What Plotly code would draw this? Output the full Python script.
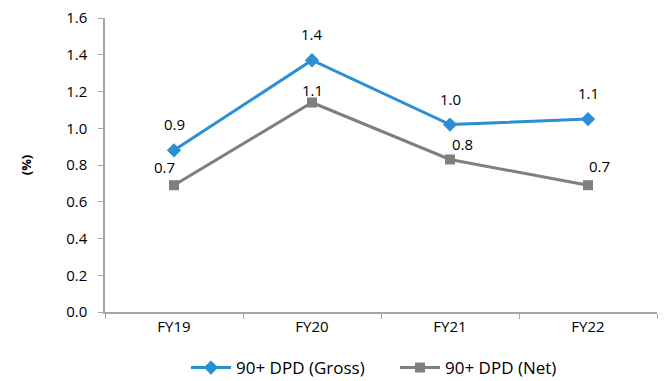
import plotly.graph_objects as go

categories = ["FY19", "FY20", "FY21", "FY22"]
gross = [0.88, 1.37, 1.02, 1.05]
net = [0.69, 1.14, 0.83, 0.69]
gross_labels = ["0.9", "1.4", "1.0", "1.1"]
net_labels = ["0.7", "1.1", "0.8", "0.7"]
y_ticks = [0.0, 0.2, 0.4, 0.6, 0.8, 1.0, 1.2, 1.4, 1.6]

FONT = "'Open Sans', sans-serif"
BLUE = "#2B8FD3"
GREY = "#7F7F7F"

fig = go.Figure()
fig.add_trace(go.Scatter(
    x=categories, y=gross, name="90+ DPD (Gross)", mode="lines+markers",
    line=dict(color=BLUE, width=3), marker=dict(symbol="diamond", size=11, color=BLUE),
))
fig.add_trace(go.Scatter(
    x=categories, y=net, name="90+ DPD (Net)", mode="lines+markers",
    line=dict(color=GREY, width=3), marker=dict(symbol="square", size=10, color=GREY),
))

gross_shift = [(0, 26), (0, 26), (0, 26), (0, 26)]
net_shift = [(-10, 18), (0, 13), (12, 15), (11, 19)]
annotations = []
for c, v, t, (dx, dy) in zip(categories, gross, gross_labels, gross_shift):
    annotations.append(dict(x=c, y=v, text=t, showarrow=False, xshift=dx, yshift=dy,
                            font=dict(family=FONT, size=15, color="#000")))
for c, v, t, (dx, dy) in zip(categories, net, net_labels, net_shift):
    annotations.append(dict(x=c, y=v, text=t, showarrow=False, xshift=dx, yshift=dy,
                            font=dict(family=FONT, size=15, color="#000")))

fig.update_layout(
    width=664, height=381,
    margin=dict(l=105, r=7, t=18, b=69, autoexpand=False),
    paper_bgcolor="white", plot_bgcolor="white",
    font=dict(family=FONT, size=15, color="#000"),
    showlegend=True,
    legend=dict(orientation="h", xref="container", x=186 / 664, xanchor="left",
                yref="container", y=1 - 368 / 381, yanchor="middle",
                font=dict(size=17), itemwidth=40, tracegroupgap=0,
                entrywidth=154, entrywidthmode="pixels"),
    annotations=annotations,
    xaxis=dict(
        range=[-0.5, 3.5], automargin=False,
        showline=True, linecolor="#A6A6A6", linewidth=1.5,
        ticks="outside", tickson="boundaries", ticklen=5, tickcolor="#A6A6A6",
        showgrid=False, zeroline=False,
    ),
    yaxis=dict(
        range=[0, 1.6], tickvals=y_ticks, tickformat=".1f", automargin=False,
        showline=True, linecolor="#A6A6A6", linewidth=1.5,
        ticks="outside", ticklen=5, tickcolor="#A6A6A6", ticklabelstandoff=8,
        showgrid=False, zeroline=False,
        title=dict(text="<b>(%)</b>", font=dict(size=13), standoff=32),
    ),
)

fig.write_html("out.html", config={"displayModeBar": False},
               post_script="document.body.style.margin='0';document.body.style.overflow='hidden';")
